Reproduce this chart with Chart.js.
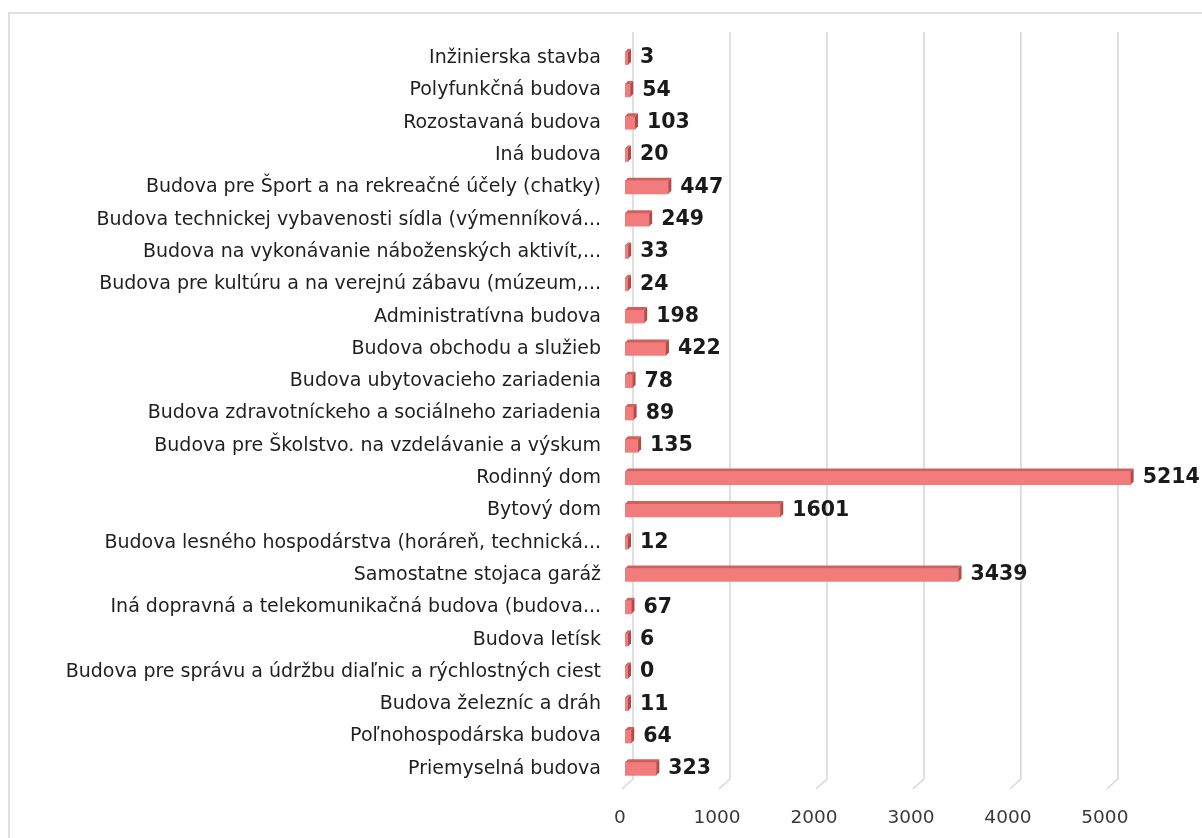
<!DOCTYPE html>
<html>
<head>
<meta charset="utf-8">
<script src="https://cdn.jsdelivr.net/npm/chart.js@4.4.0/dist/chart.umd.min.js"></script>
<style>
  html, body { margin: 0; padding: 0; background: #fff; overflow: hidden; }
  #frame {
    position: absolute; left: 8px; top: 12px; width: 1400px; height: 1000px;
    border: 2px solid #e0e0e0;
  }
  #wrap { position: absolute; left: 0; top: 0; width: 1202px; height: 838px; }
</style>
</head>
<body>
<div id="frame"></div>
<div id="wrap"><canvas id="chart"></canvas></div>
<script>
// categories listed top to bottom, as in the picture
const categories = [
  'Inžinierska stavba',
  'Polyfunkčná budova',
  'Rozostavaná budova',
  'Iná budova',
  'Budova pre Šport a na rekreačné účely (chatky)',
  'Budova technickej vybavenosti sídla (výmenníková...',
  'Budova na vykonávanie náboženských aktivít,...',
  'Budova pre kultúru a na verejnú zábavu (múzeum,...',
  'Administratívna budova',
  'Budova obchodu a služieb',
  'Budova ubytovacieho zariadenia',
  'Budova zdravotníckeho a sociálneho zariadenia',
  'Budova pre Školstvo. na vzdelávanie a výskum',
  'Rodinný dom',
  'Bytový dom',
  'Budova lesného hospodárstva (horáreň, technická...',
  'Samostatne stojaca garáž',
  'Iná dopravná a telekomunikačná budova (budova...',
  'Budova letísk',
  'Budova pre správu a údržbu diaľnic a rýchlostných ciest',
  'Budova železníc a dráh',
  'Poľnohospodárska budova',
  'Priemyselná budova'
];

const counts = [3, 54, 103, 20, 447, 249, 33, 24, 198, 422, 78, 89, 135,
  5214, 1601, 12, 3439, 67, 6, 0, 11, 64, 323];

const xTicks = [0, 1000, 2000, 3000, 4000, 5000];

const FONT = '"DejaVu Sans", sans-serif';

// back-plane gridlines with the little slanted foot of the 3D floor
const gridPlugin = {
  id: 'grid3d',
  beforeDatasetsDraw(chart) {
    const { ctx, chartArea, scales } = chart;
    ctx.save();
    ctx.strokeStyle = '#d6d6d6';
    ctx.lineWidth = 1.5;
    xTicks.forEach(v => {
      const px = scales.x.getPixelForValue(v);
      ctx.beginPath();
      ctx.moveTo(px + 8, chartArea.top - 10);
      ctx.lineTo(px + 8, chartArea.bottom - 6);
      ctx.lineTo(px - 3, chartArea.bottom + 4);
      ctx.stroke();
    });
    ctx.restore();
  }
};

// top and side faces of the bars, then the value labels
const barPlugin = {
  id: 'bar3d',
  afterDatasetsDraw(chart) {
    const { ctx } = chart;
    const meta = chart.getDatasetMeta(0);
    const d = 3;
    ctx.save();
    meta.data.forEach((bar, i) => {
      const top = bar.y - bar.height / 2;
      const bottom = bar.y + bar.height / 2;
      const x0 = bar.base, x1 = bar.x;
      ctx.fillStyle = '#d0605c';
      ctx.beginPath();
      ctx.moveTo(x0, top);
      ctx.lineTo(x0 + d, top - d);
      ctx.lineTo(x1 + d, top - d);
      ctx.lineTo(x1, top);
      ctx.closePath();
      ctx.fill();
      ctx.fillStyle = '#b24a47';
      ctx.beginPath();
      ctx.moveTo(x1, top);
      ctx.lineTo(x1 + d, top - d);
      ctx.lineTo(x1 + d, bottom - d);
      ctx.lineTo(x1, bottom);
      ctx.closePath();
      ctx.fill();

      ctx.fillStyle = '#1a1a1a';
      ctx.font = 'bold 20.5px ' + FONT;
      ctx.textBaseline = 'middle';
      ctx.textAlign = 'left';
      ctx.fillText(String(counts[i]), x1 + 12, bar.y);
    });
    ctx.restore();
  }
};

new Chart(document.getElementById('chart'), {
  type: 'bar',
  data: {
    labels: categories,
    datasets: [{
      data: counts,
      backgroundColor: '#f27b7b',
      borderWidth: 0,
      barThickness: 13,
      minBarLength: 3
    }]
  },
  plugins: [gridPlugin, barPlugin],
  options: {
    indexAxis: 'y',
    responsive: true,
    maintainAspectRatio: false,
    animation: false,
    layout: { padding: { top: 42, right: 0, bottom: 0, left: 0 } },
    plugins: {
      legend: { display: false },
      tooltip: { enabled: false }
    },
    scales: {
      x: {
        min: 0,
        max: 5950,
        afterBuildTicks(scale) {
          scale.ticks = xTicks.map(v => ({ value: v }));
        },
        afterFit(scale) { scale.height = 53; },
        grid: { display: false, drawTicks: false },
        border: { display: false },
        ticks: {
          padding: 22,
          labelOffset: -5,
          color: '#3a3a3a',
          font: { family: FONT, size: 18.5 },
          callback: v => String(v)
        }
      },
      y: {
        afterFit(scale) { scale.width = 625; },
        grid: { display: false, drawTicks: false },
        border: { display: false },
        ticks: {
          padding: 24,
          autoSkip: false,
          color: '#1f1f1f',
          font: { family: FONT, size: 19 }
        }
      }
    }
  }
});
</script>
</body>
</html>
